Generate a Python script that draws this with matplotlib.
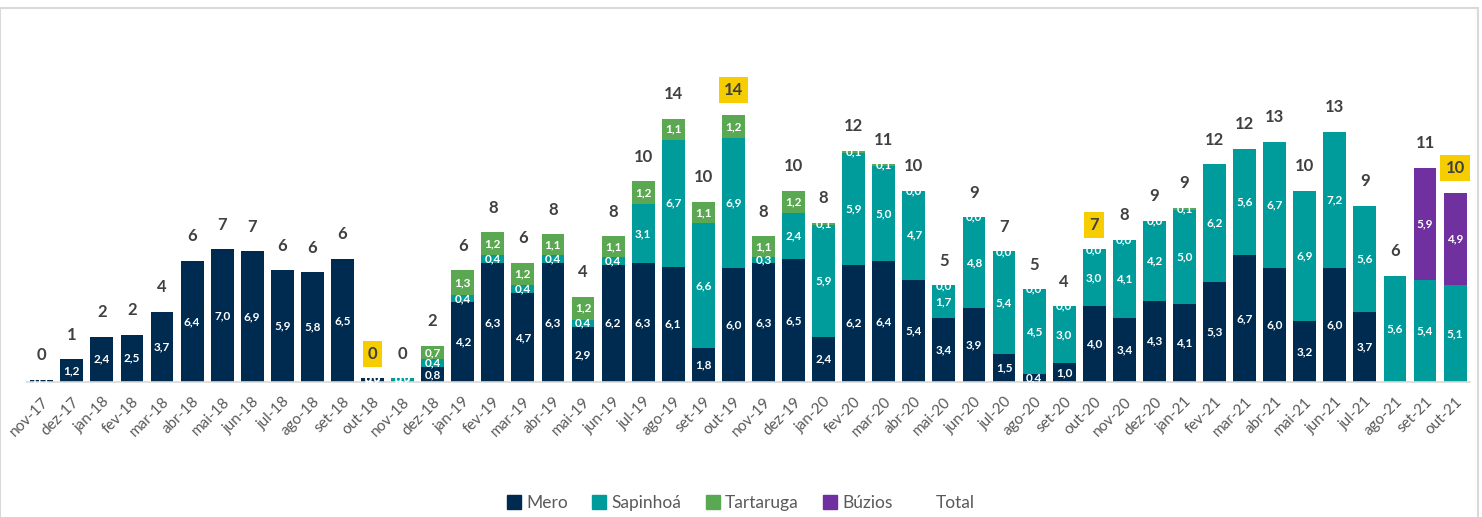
import matplotlib.pyplot as plt
import numpy as np
from matplotlib.patches import Rectangle, Patch
from matplotlib.lines import Line2D

plt.rcParams['font.family'] = ['Lato', 'DejaVu Sans']

meses = ['nov-17', 'dez-17',
         'jan-18', 'fev-18', 'mar-18', 'abr-18', 'mai-18', 'jun-18',
         'jul-18', 'ago-18', 'set-18', 'out-18', 'nov-18', 'dez-18',
         'jan-19', 'fev-19', 'mar-19', 'abr-19', 'mai-19', 'jun-19',
         'jul-19', 'ago-19', 'set-19', 'out-19', 'nov-19', 'dez-19',
         'jan-20', 'fev-20', 'mar-20', 'abr-20', 'mai-20', 'jun-20',
         'jul-20', 'ago-20', 'set-20', 'out-20', 'nov-20', 'dez-20',
         'jan-21', 'fev-21', 'mar-21', 'abr-21', 'mai-21', 'jun-21',
         'jul-21', 'ago-21', 'set-21', 'out-21']

N = None
mero = [0.1, 1.2,
        2.4, 2.5, 3.7, 6.4, 7.0, 6.9, 5.9, 5.8, 6.5, 0.2, N, 0.8,
        4.2, 6.3, 4.7, 6.3, 2.9, 6.2, 6.3, 6.1, 1.8, 6.0, 6.3, 6.5,
        2.4, 6.2, 6.4, 5.4, 3.4, 3.9, 1.5, 0.4, 1.0, 4.0, 3.4, 4.3,
        4.1, 5.3, 6.7, 6.0, 3.2, 6.0, 3.7, N, N, N]
sapinhoa = [N, N,
            N, N, N, N, N, N, N, N, N, 0.0, 0.2, 0.4,
            0.4, 0.4, 0.4, 0.4, 0.4, 0.4, 3.1, 6.7, 6.6, 6.9, 0.3, 2.4,
            5.9, 5.9, 5.0, 4.7, 1.7, 4.8, 5.4, 4.5, 3.0, 3.0, 4.1, 4.2,
            5.0, 6.2, 5.6, 6.7, 6.9, 7.2, 5.6, 5.6, 5.4, 5.1]
tartaruga = [N, N,
             N, N, N, N, N, N, N, N, N, 0.0, 0.0, 0.7,
             1.3, 1.2, 1.2, 1.1, 1.2, 1.1, 1.2, 1.1, 1.1, 1.2, 1.1, 1.2,
             0.1, 0.1, 0.1, 0.0, 0.0, 0.0, 0.0, 0.0, 0.0, 0.0, 0.0, 0.0,
             0.1, N, N, N, N, N, N, N, N, N]
buzios = [N] * 46 + [5.9, 4.9]
total = [0, 1,
         2, 2, 4, 6, 7, 7, 6, 6, 6, 0, 0, 2,
         6, 8, 6, 8, 4, 8, 10, 14, 10, 14, 8, 10,
         8, 12, 11, 10, 5, 9, 7, 5, 4, 7, 8, 9,
         9, 12, 12, 13, 10, 13, 9, 6, 11, 10]
destaque = ['out-18', 'out-19', 'out-20', 'out-21']

series = [('Mero', mero, '#002B50'),
          ('Sapinhoá', sapinhoa, '#009B9B'),
          ('Tartaruga', tartaruga, '#5BA852'),
          ('Búzios', buzios, '#7030A0')]

fig = plt.figure(figsize=(14.82, 5.17), dpi=100)
ax = fig.add_axes([0.018, 0.2611, 0.974, 0.586])

x = np.arange(len(meses))
base = np.zeros(len(meses))
for nome, vals, cor in series:
    v = np.array([np.nan if a is None else a for a in vals], dtype=float)
    h = np.nan_to_num(v)
    ax.bar(x, h, 0.76, bottom=base, color=cor, zorder=2)
    for i in range(len(x)):
        if not np.isnan(v[i]):
            ax.text(x[i], base[i] + h[i] / 2, f'{v[i]:.1f}'.replace('.', ','),
                    ha='center', va='center', color='white',
                    fontsize=8.5, fontweight='bold', zorder=3)
    base = base + h

# rótulo do total acima de cada barra
for i, t in enumerate(total):
    kw = {}
    if meses[i] in destaque:
        kw['bbox'] = dict(boxstyle='square,pad=0.3', fc='#F5CD00', ec='none')
    ax.annotate(str(t), (x[i], base[i]), xytext=(0, 12), textcoords='offset points',
                ha='center', va='bottom', fontsize=12, fontweight='bold',
                color='#404040', **kw)

ax.set_xlim(-0.5, len(meses) - 0.5)
ax.set_ylim(0, 16)
ax.set_xticks(x)
ax.set_xticklabels(meses, rotation=45, ha='right', rotation_mode='anchor',
                   fontsize=11, color='#595959')
ax.tick_params(axis='x', length=0, pad=9)
ax.set_yticks([])
for s in ['top', 'right', 'left']:
    ax.spines[s].set_visible(False)
ax.spines['bottom'].set_color('#D9D9D9')
ax.spines['bottom'].set_linewidth(1.2)

handles = [Patch(color=c, label=n) for n, _, c in series]
handles.append(Line2D([], [], color='none', label='Total'))
fig.legend(handles=handles, loc='center', bbox_to_anchor=(0.5, 0.027),
           ncol=5, frameon=False, fontsize=12.5, handlelength=0.8,
           handleheight=0.8, handletextpad=0.3, columnspacing=1.4,
           labelcolor='#595959')

fig.patches.append(Rectangle((0, -0.01), 1478 / 1482, (517 - 8) / 517 + 0.01,
                             transform=fig.transFigure, fill=False,
                             ec='#D9D9D9', lw=1.5))

fig.savefig('out.png', dpi=100)
